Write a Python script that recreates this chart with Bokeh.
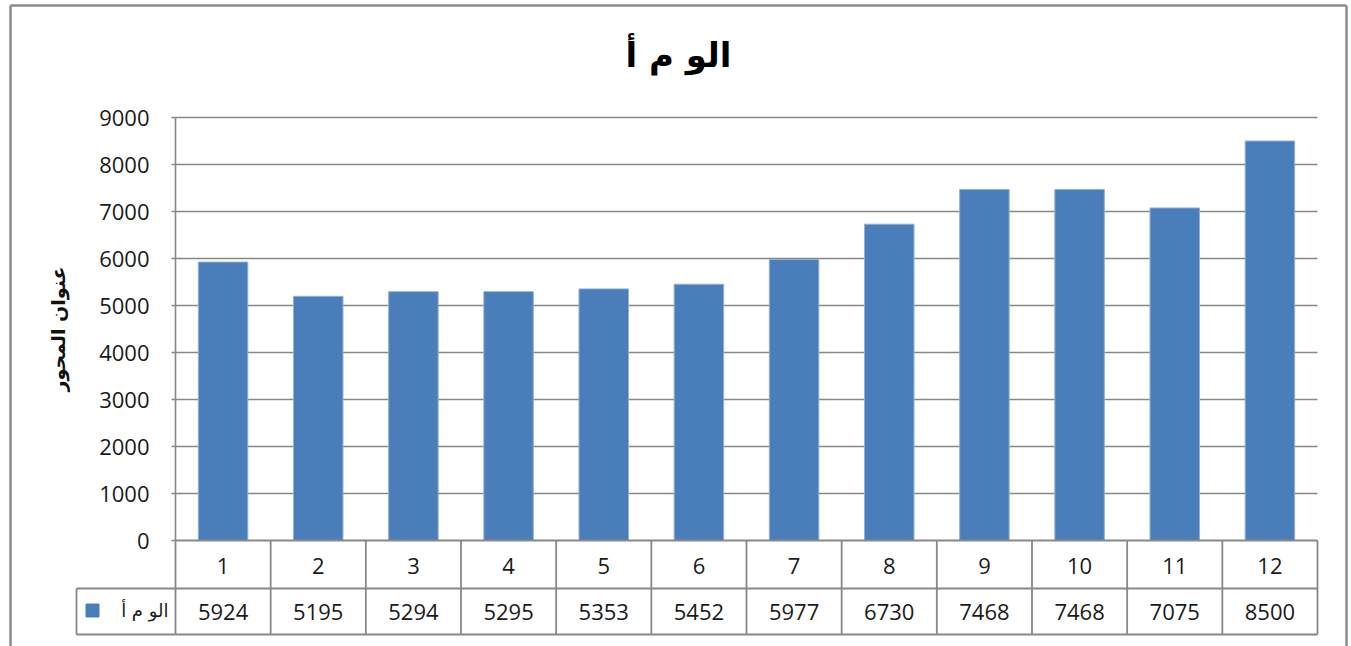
from bokeh.plotting import figure
from bokeh.models import LinearAxis, FixedTicker, Range1d
from bokeh.core.properties import value
from bokeh.embed import file_html
from bokeh.resources import INLINE

# ---------------- data ----------------
categories = ["1", "2", "3", "4", "5", "6", "7", "8", "9", "10", "11", "12"]
values = [5924, 5195, 5294, 5295, 5353, 5452, 5977, 6730, 7468, 7468, 7075, 8500]
y_ticks = [0, 1000, 2000, 3000, 4000, 5000, 6000, 7000, 8000, 9000]
series_name = "الو م أ"
chart_title = "الو م أ"
y_title = "عنوان المحور"

# ---------------- layout (canvas pixels) ----------------
W, H = 1350, 646
PA_LEFT, PA_RIGHT = 175, 1317      # plot-area left / right
PA_TOP, PA_ZERO = 117, 540         # y of top tick and of zero
ROW_SEP, ROW_BOT = 588, 634        # data-table row separator / bottom
LEG_LEFT = 76                      # legend-key cell left edge
Y_MAX = y_ticks[-1]

n = len(categories)
cat_w = (PA_RIGHT - PA_LEFT) / n
upp = Y_MAX / (PA_ZERO - PA_TOP)   # data units per pixel


def xd(px):
    return 0.5 + (px - PA_LEFT) / cat_w


def yd(py):
    return (PA_ZERO - py) * upp


xs = list(range(1, n + 1))
FONT_NUM = "Open Sans"
FONT_AR = "DejaVu Sans"
GRID = "#888888"
BAR = "#4A7EBB"

p = figure(width=W, height=H, output_backend="svg", toolbar_location=None,
           x_axis_type=None, y_axis_type=None, title=None,
           x_range=Range1d(xd(0), xd(W)), y_range=Range1d(yd(H), yd(0)),
           min_border=0, min_border_left=0, min_border_right=0,
           min_border_top=0, min_border_bottom=0)
p.outline_line_color = None
p.xgrid.visible = False
p.ygrid.visible = False
p.background_fill_color = "white"
p.border_fill_color = "white"

# gridlines (within plot area only)
gy = y_ticks[1:]
p.segment(x0=[0.5] * len(gy), x1=[n + 0.5] * len(gy), y0=gy, y1=gy,
          line_color=GRID, line_width=1.6)

# bars
p.vbar(x=xs, top=values, width=0.52, fill_color=BAR, line_color="#8FB0D9", line_width=1)

# y axis placed at the plot-area left edge
yaxis = LinearAxis(fixed_location=0.5, bounds=(0, Y_MAX),
                   ticker=FixedTicker(ticks=y_ticks),
                   axis_label=y_title,
                   axis_line_color=GRID, axis_line_width=1.6,
                   major_tick_line_color=GRID, major_tick_line_width=1.6,
                   major_tick_out=4, major_tick_in=0,
                   minor_tick_line_color=None,
                   major_label_text_font=FONT_NUM,
                   major_label_text_font_size="22px",
                   major_label_text_color="#1a1a1a",
                   major_label_standoff=22,
                   axis_label_text_font=FONT_AR,
                   axis_label_text_font_size="19px",
                   axis_label_text_font_style="bold",
                   axis_label_text_color="#111111",
                   axis_label_standoff=27)
p.add_layout(yaxis, "left")

# data table lines
yt0, ysep, ybot = 0, yd(ROW_SEP), yd(ROW_BOT)
hx0 = [0.5, 0.5, 0.5, xd(LEG_LEFT), xd(LEG_LEFT)]
hx1 = [n + 0.5, n + 0.5, n + 0.5, 0.5, 0.5]
hy = [yt0, ysep, ybot, ysep, ybot]
p.segment(x0=hx0, x1=hx1, y0=hy, y1=hy, line_color=GRID, line_width=1.8)
vx = [k + 0.5 for k in range(n + 1)]
p.segment(x0=vx, x1=vx, y0=[yt0] * len(vx), y1=[ybot] * len(vx),
          line_color=GRID, line_width=1.8)
p.segment(x0=[xd(LEG_LEFT)], x1=[xd(LEG_LEFT)], y0=[ysep], y1=[ybot],
          line_color=GRID, line_width=1.8)

# table texts
p.text(x=xs, y=[yd(565)] * n, text=categories, text_font=value(FONT_NUM),
       text_font_size="22px", text_align="center", text_baseline="middle",
       text_color="#1a1a1a")
p.text(x=xs, y=[yd(611)] * n, text=[str(v) for v in values], text_font=value(FONT_NUM),
       text_font_size="22px", text_align="center", text_baseline="middle",
       text_color="#1a1a1a")

# legend key inside the table
p.scatter(x=[xd(92)], y=[yd(610)], marker="square", size=13, fill_color=BAR, line_color=BAR)
p.text(x=[xd(168)], y=[yd(610)], text=[series_name], text_font=value(FONT_AR),
       text_font_size="18px", text_align="right", text_baseline="middle",
       text_color="#1a1a1a")

# title
p.text(x=[xd(678)], y=[yd(54)], text=[chart_title], text_font=value(FONT_AR),
       text_font_size="34px", text_font_style="bold", text_align="center",
       text_baseline="middle", text_color="#000000")

# outer chart border
bx = [xd(10), xd(1346)]
p.segment(x0=bx, x1=bx, y0=[yd(5)] * 2, y1=[yd(H)] * 2, line_color="#8C8C8C", line_width=2.5)
p.segment(x0=[xd(10)], x1=[xd(1346)], y0=[yd(5)], y1=[yd(5)], line_color="#8C8C8C", line_width=2.5)

open("out.html", "w").write(file_html(p, INLINE))
